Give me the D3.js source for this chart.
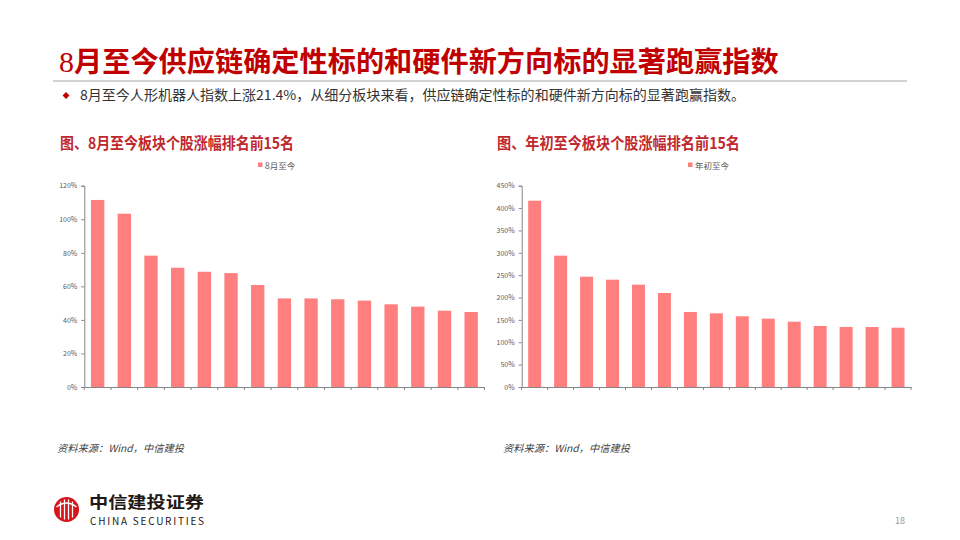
<!DOCTYPE html>
<html><head><meta charset="utf-8">
<script src="https://cdn.jsdelivr.net/npm/d3@7"></script>
<style>
body{margin:0;background:#fff;}
svg{display:block;}
text{font-family:"Noto Sans CJK SC","Noto Sans",sans-serif;}
</style></head><body>
<svg id="c" width="960" height="540"></svg>
<script>
const pageTitleNum = "8";
const pageTitleRest = "月至今供应链确定性标的和硬件新方向标的显著跑赢指数";
const bulletText = "8月至今人形机器人指数上涨21.4%，从细分板块来看，供应链确定性标的和硬件新方向标的显著跑赢指数。";
const leftTitle = "图、8月至今板块个股涨幅排名前15名";
const rightTitle = "图、年初至今板块个股涨幅排名前15名";
const leftSeriesName = "8月至今";
const rightSeriesName = "年初至今";
const sourceText = "资料来源：Wind，中信建投";
const categories = d3.range(1, 16).map(i => "股票" + i);
const leftValues = [111.5, 103.3, 78.3, 71.1, 68.7, 67.9, 60.8, 52.8, 52.8, 52.3, 51.5, 49.3, 47.9, 45.5, 44.7];
const rightValues = [416.5, 293.6, 246.6, 239.9, 228.8, 210.1, 167.7, 164.7, 158.0, 152.8, 146.0, 136.4, 134.1, 134.1, 132.6];
const leftTicks = [0, 20, 40, 60, 80, 100, 120];
const rightTicks = [0, 50, 100, 150, 200, 250, 300, 350, 400, 450];
const pageNumber = "18";

const svg = d3.select("#c");
const red = "#c00000";
const subRed = "#c0282d";
const barColor = "#ff7f7f";

// Page title
const t = svg.append("text").attr("x", 59).attr("y", 72).attr("fill", red);
t.append("tspan").text(pageTitleNum).attr("font-family", "Liberation Serif, serif").attr("font-size", 30);
t.append("tspan").text(pageTitleRest).attr("font-size", 28.2).attr("font-weight", "bold");

svg.append("line").attr("x1", 53).attr("x2", 907).attr("y1", 81).attr("y2", 81)
  .attr("stroke", "#a6a6a6").attr("stroke-width", 1.2);

// bullet
svg.append("path").attr("d", d3.symbol(d3.symbolDiamond2, 30)())
  .attr("transform", "translate(66,95.5)").attr("fill", red);
svg.append("text").attr("x", 80).attr("y", 100).attr("font-size", 13.5).attr("fill", "#333")
  .attr("textLength", 665).attr("lengthAdjust", "spacingAndGlyphs").text(bulletText);

function drawChart(opt) {
  const g = svg.append("g");
  g.append("text").attr("x", opt.titleX).attr("y", 149).attr("font-size", 15.5)
    .attr("font-weight", "bold").attr("fill", subRed)
    .attr("textLength", opt.titleLen).attr("lengthAdjust", "spacingAndGlyphs").text(opt.title);
  // legend
  g.append("rect").attr("x", opt.legendX).attr("y", 162.5).attr("width", 4.5).attr("height", 4.5).attr("fill", barColor);
  g.append("text").attr("x", opt.legendX + 7).attr("y", 168.5).attr("font-size", 8.5).attr("fill", "#595959").text(opt.name);

  const x = d3.scaleBand().domain(categories).range([opt.x0, opt.x1]).paddingInner(0.5).paddingOuter(0.25);
  const y = d3.scaleLinear().domain([0, opt.max]).range([387, 185.7]);

  g.selectAll("rect.bar").data(opt.values).enter().append("rect").attr("class", "bar")
    .attr("x", (d, i) => x(categories[i])).attr("width", x.bandwidth())
    .attr("y", d => y(d)).attr("height", d => y(0) - y(d)).attr("fill", barColor);

  const ya = d3.axisLeft(y).tickValues(opt.ticks).tickSize(3).tickPadding(4)
    .tickFormat(d => d + "%");
  const yg = g.append("g").attr("transform", `translate(${opt.x0},0)`).call(ya);
  yg.select(".domain").attr("stroke", "#868686");
  yg.selectAll(".tick line").attr("stroke", "#868686");
  yg.selectAll(".tick text").attr("font-size", 7).attr("fill", "#595959")
    .attr("font-family", "Liberation Sans, sans-serif");

  const xa = d3.axisBottom(x).tickSize(0).tickFormat("");
  const xg = g.append("g").attr("transform", `translate(0,${y(0)})`).call(xa);
  xg.select(".domain").attr("stroke", "#868686");
  const bounds = d3.range(0, categories.length + 1).map(i => opt.x0 + i * (opt.x1 - opt.x0) / categories.length);
  xg.selectAll("line.bt").data(bounds).enter().append("line").attr("class", "bt")
    .attr("x1", d => d).attr("x2", d => d).attr("y1", 0).attr("y2", 3).attr("stroke", "#868686");

  g.append("text").attr("x", opt.srcX).attr("y", 452).attr("font-size", 10)
    .attr("font-style", "italic").attr("fill", "#404040")
    .attr("textLength", 127).attr("lengthAdjust", "spacingAndGlyphs").text(sourceText);
}

drawChart({title: leftTitle, titleX: 60, titleLen: 234, legendX: 258, name: leftSeriesName, x0: 84.3, x1: 484.5,
  max: 120, values: leftValues, ticks: leftTicks, srcX: 57});
drawChart({title: rightTitle, titleX: 497, titleLen: 243, legendX: 688, name: rightSeriesName, x0: 521.7, x1: 911,
  max: 450, values: rightValues, ticks: rightTicks, srcX: 503});

// logo
const logo = svg.append("g");
logo.append("circle").attr("cx", 66.5).attr("cy", 509.5).attr("r", 12.5).attr("fill", "#d7141a");
[[-6, 8], [-2, 10], [2, 10], [6, 8]].forEach(([dx, h]) => {
  logo.append("line").attr("x1", 66.5 + dx).attr("x2", 66.5 + dx).attr("y1", 509.5 - h).attr("y2", 509.5 + h)
    .attr("stroke", "#fff").attr("stroke-width", 1.3);
});
logo.append("path").attr("d", "M56.5,507 Q66.5,499 76.5,507").attr("fill", "none").attr("stroke", "#fff").attr("stroke-width", 1.3);
logo.append("text").attr("x", 89).attr("y", 507.5).attr("font-size", 16).attr("font-weight", "bold")
  .attr("fill", "#231815").attr("textLength", 115).attr("lengthAdjust", "spacingAndGlyphs").text("中信建投证券");
logo.append("text").attr("x", 90).attr("y", 525).attr("font-size", 10)
  .attr("font-family", "Liberation Sans, sans-serif").attr("fill", "#231815")
  .attr("textLength", 114).text("CHINA SECURITIES");

svg.append("text").attr("x", 895).attr("y", 524).attr("font-size", 9).attr("fill", "#999")
  .attr("font-family", "Liberation Serif, serif").text(pageNumber);
</script>
</body></html>
